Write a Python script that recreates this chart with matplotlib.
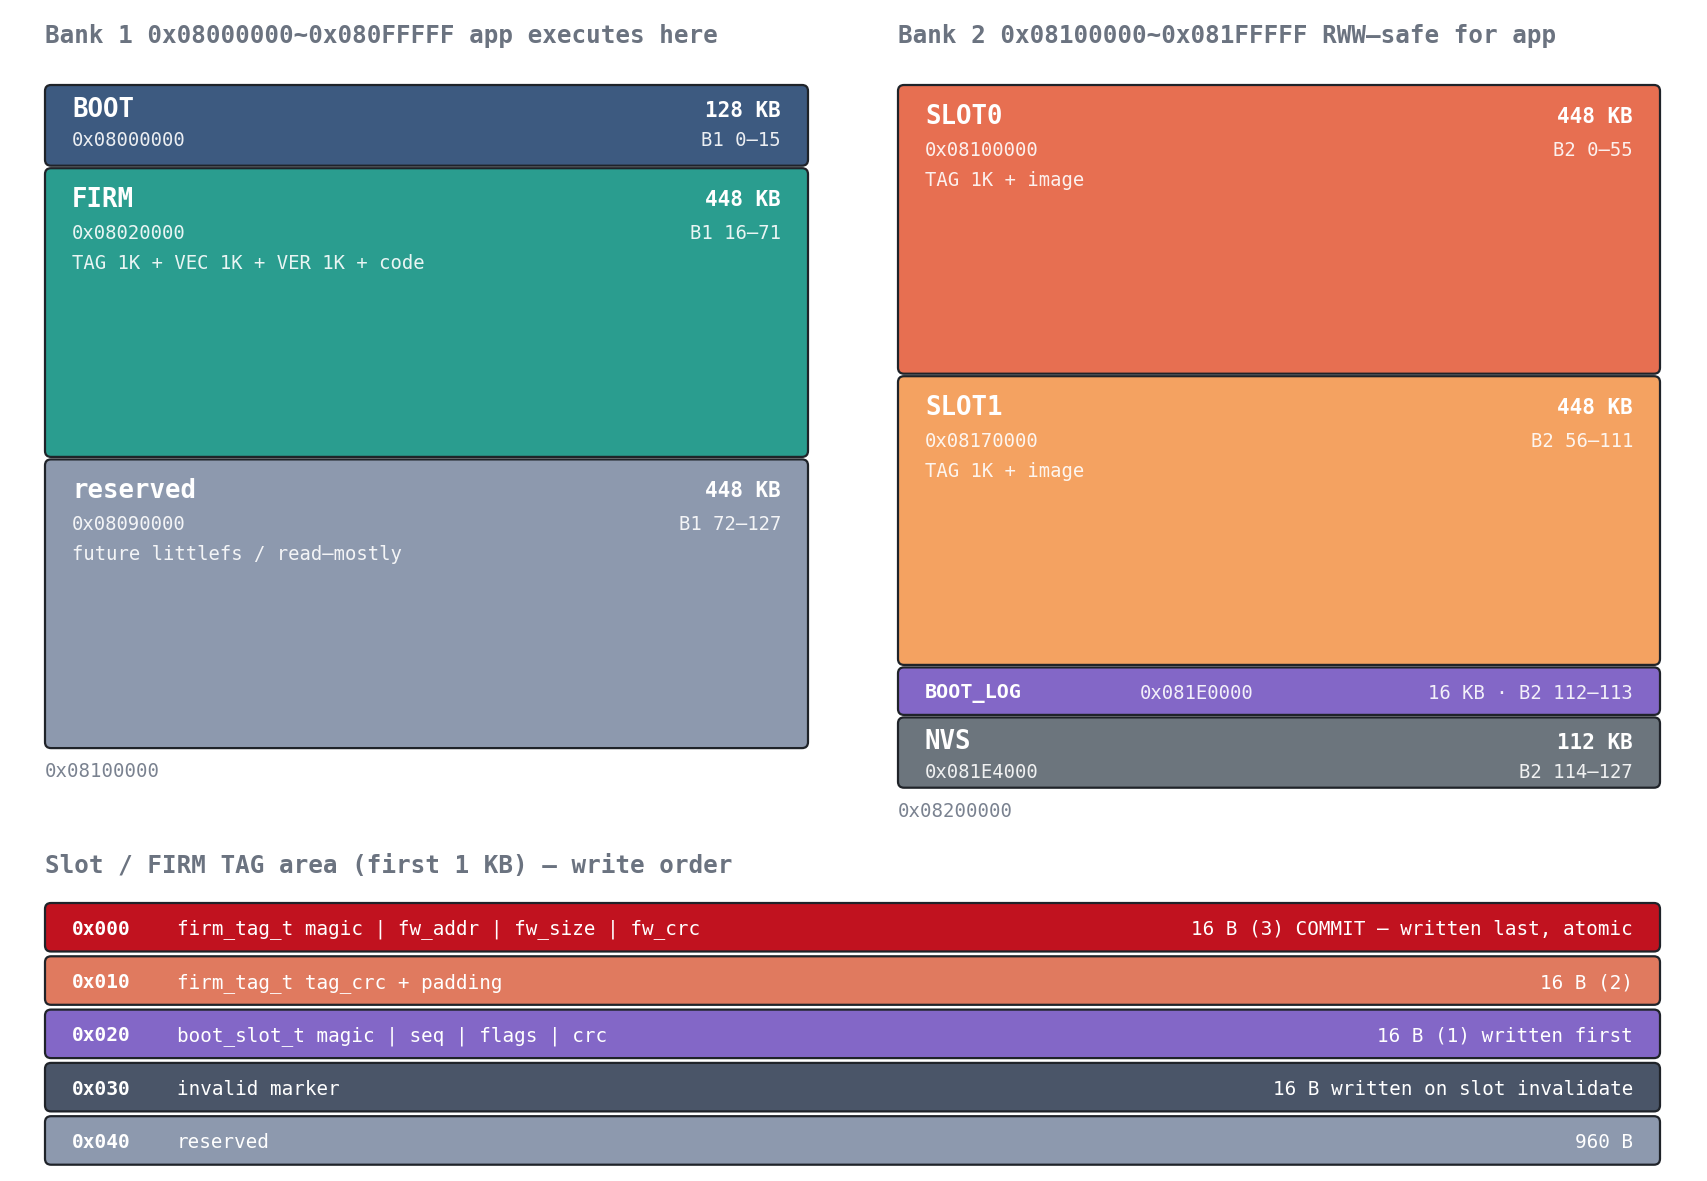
import matplotlib
matplotlib.use("Agg")
import matplotlib.pyplot as plt
from matplotlib.patches import FancyBboxPatch

W, H = 1707, 1181
MONO = "DejaVu Sans Mono"

# Bank 1
bank1_names = ["BOOT", "FIRM", "reserved"]
bank1_addrs = ["0x08000000", "0x08020000", "0x08090000"]
bank1_kb = [128, 448, 448]
bank1_sectors = ["B1 0–15", "B1 16–71", "B1 72–127"]
bank1_notes = ["", "TAG 1K + VEC 1K + VER 1K + code", "future littlefs / read–mostly"]
bank1_colors = ["#3d5a80", "#2a9d8f", "#8d99ae"]

# Bank 2
bank2_names = ["SLOT0", "SLOT1", "BOOT_LOG", "NVS"]
bank2_addrs = ["0x08100000", "0x08170000", "0x081E0000", "0x081E4000"]
bank2_kb = [448, 448, 16, 112]
bank2_sectors = ["B2 0–55", "B2 56–111", "B2 112–113", "B2 114–127"]
bank2_notes = ["TAG 1K + image", "TAG 1K + image", "", ""]
bank2_colors = ["#e76f51", "#f4a261", "#8367c7", "#6c757d"]

# TAG area rows
tag_offsets = ["0x000", "0x010", "0x020", "0x030", "0x040"]
tag_fields = ["firm_tag_t magic | fw_addr | fw_size | fw_crc",
              "firm_tag_t tag_crc + padding",
              "boot_slot_t magic | seq | flags | crc",
              "invalid marker",
              "reserved"]
tag_notes = ["16 B (3) COMMIT – written last, atomic",
             "16 B (2)",
             "16 B (1) written first",
             "16 B written on slot invalidate",
             "960 B"]
tag_colors = ["#c1121f", "#e07a5f", "#8367c7", "#4a5568", "#8d99ae"]

TITLE_C = "#6b7380"
EDGE_C = "#1f2329"
PX_PER_KB = 0.65
MIN_SLOT = 50
GAP = 2.5
DY = 2  # text nudge down

fig = plt.figure(figsize=(W / 100, H / 100), dpi=100)
ax = fig.add_axes([0, 0, 1, 1])
ax.set_xlim(0, W)
ax.set_ylim(H, 0)
ax.axis("off")


def box(x, y, w, h, color):
    p = FancyBboxPatch((x, y), w, h, boxstyle="round,pad=0,rounding_size=6",
                       facecolor=color, edgecolor=EDGE_C, linewidth=1.6)
    ax.add_patch(p)


def txt(x, y, s, size, bold=False, ha="left", color="white", alpha=1.0):
    ax.text(x, y + DY, s, fontsize=size, fontfamily=MONO,
            fontweight="bold" if bold else "normal",
            ha=ha, va="center", color=color, alpha=alpha)


def bank(x0, x1, top, names, addrs, kbs, sectors, notes, colors, end_label):
    y = top
    pad = 27
    for name, addr, kb, sec, note, col in zip(names, addrs, kbs, sectors, notes, colors):
        slot = max(kb * PX_PER_KB, MIN_SLOT)
        h = slot - GAP
        box(x0, y, x1 - x0, h, col)
        if h < 60:
            # single-line strip
            cy = y + h / 2
            txt(x0 + pad, cy, name, 14.5, bold=True)
            txt(x0 + 242, cy, addr, 13.6, alpha=0.9)
            txt(x1 - pad, cy, f"{kb} KB · {sec}", 13.6, ha="right", alpha=0.9)
        elif h < 100:
            txt(x0 + pad, y + 23, name, 18.5, bold=True)
            txt(x1 - pad, y + 24, f"{kb} KB", 15, bold=True, ha="right")
            txt(x0 + pad, y + 53, addr, 13.6, alpha=0.9)
            txt(x1 - pad, y + 53, sec, 13.6, ha="right", alpha=0.9)
        else:
            txt(x0 + pad, y + 30, name, 18.5, bold=True)
            txt(x1 - pad, y + 30, f"{kb} KB", 15, bold=True, ha="right")
            txt(x0 + pad, y + 63, addr, 13.6, alpha=0.9)
            txt(x1 - pad, y + 63, sec, 13.6, ha="right", alpha=0.9)
            if note:
                txt(x0 + pad, y + 93, note, 13.6, alpha=0.9)
        y += slot
    txt(x0, y + 19, end_label, 13.7, color="#7a8290")


# titles
txt(45, 34, "Bank 1 0x08000000~0x080FFFFF app executes here", 17.5, bold=True, color=TITLE_C)
txt(898, 34, "Bank 2 0x08100000~0x081FFFFF RWW–safe for app", 17.5, bold=True, color=TITLE_C)

bank(45, 808, 85, bank1_names, bank1_addrs, bank1_kb, bank1_sectors, bank1_notes,
     bank1_colors, "0x08100000")
bank(898, 1660, 85, bank2_names, bank2_addrs, bank2_kb, bank2_sectors, bank2_notes,
     bank2_colors, "0x08200000")

# TAG area
txt(45, 864, "Slot / FIRM TAG area (first 1 KB) – write order", 17.5, bold=True, color=TITLE_C)
row_top, row_h, row_pitch = 903, 48.5, 53.3
for i, (off, field, note, col) in enumerate(zip(tag_offsets, tag_fields, tag_notes, tag_colors)):
    y = row_top + i * row_pitch
    box(45, y, 1660 - 45, row_h, col)
    cy = y + row_h / 2
    txt(72, cy, off, 14, bold=True)
    txt(177, cy, field, 13.9)
    txt(1633, cy, note, 13.9, ha="right")

fig.savefig("out.png", dpi=100, facecolor="white")
